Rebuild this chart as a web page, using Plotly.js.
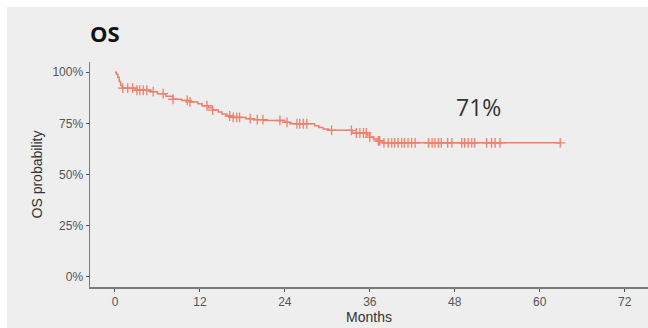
<!DOCTYPE html>
<html>
<head>
<meta charset="utf-8">
<script src="https://cdn.plot.ly/plotly-3.0.1.min.js"></script>
<style>
  html, body { margin:0; padding:0; background:#ffffff; overflow:hidden; }
  #chart { position:absolute; left:7px; top:7px; width:641px; height:321px; }
</style>
</head>
<body>
<div id="chart"></div>
<script>
// Kaplan-Meier step curve (months, survival probability)
const stepTimes = [0, 0.2, 0.4, 0.6, 0.8, 1.0, 3.0, 5.0, 6.0, 7.2, 8.2, 9.4, 10.6, 11.7, 12.3, 13.2, 13.8, 14.6, 15.1, 15.8, 16.6, 18.5, 19.6, 21.0, 24.0, 24.7, 28.2, 28.8, 29.4, 30.2, 33.5, 35.6, 36.0, 36.5, 37.2, 37.8, 62.9];
const stepSurv  = [1.0, 0.99, 0.975, 0.955, 0.935, 0.922, 0.912, 0.905, 0.895, 0.882, 0.868, 0.862, 0.855, 0.846, 0.836, 0.826, 0.815, 0.805, 0.796, 0.786, 0.779, 0.773, 0.768, 0.764, 0.755, 0.748, 0.738, 0.730, 0.722, 0.716, 0.703, 0.693, 0.683, 0.673, 0.664, 0.655, 0.655];
// Censoring times (months)
const censorTimes = [1.1, 1.8, 2.5, 3.1, 3.5, 4.0, 4.5, 5.4, 6.8, 8.2, 10.2, 10.6, 13.0, 13.8, 16.2, 16.7, 17.2, 17.6, 19.1, 20.1, 20.9, 23.3, 24.3, 25.7, 26.1, 26.6, 27.1, 30.6, 33.4, 34.1, 34.6, 35.1, 35.5, 36.0, 37.2, 37.4, 38.0, 38.6, 39.1, 39.5, 40.0, 40.5, 40.9, 41.4, 41.9, 42.4, 44.3, 44.8, 45.2, 45.7, 46.1, 47.0, 47.6, 49.0, 49.4, 49.9, 50.4, 50.8, 52.5, 53.2, 53.7, 54.4, 62.9];
// Axis ticks
const xTickVals = [0, 12, 24, 36, 48, 60, 72];
const yTickVals = [0, 0.25, 0.5, 0.75, 1.0];
const yTickText = ['0%', '25%', '50%', '75%', '100%'];
// Texts
const chartTitle = 'OS';
const xTitle = 'Months';
const yTitle = 'OS probability';
const annotText = '71%';
const annotX = 51.4;
const annotY = 0.828;

// survival at censor time from step curve
function survAt(t) {
  let s = stepSurv[0];
  for (let i = 0; i < stepTimes.length; i++) {
    if (stepTimes[i] <= t) s = stepSurv[i]; else break;
  }
  return s;
}
const censorSurv = censorTimes.map(survAt);

const col = '#F07F69';

const traces = [
  {
    x: stepTimes, y: stepSurv, type: 'scatter', mode: 'lines',
    line: {shape: 'hv', color: col, width: 1.5},
    hoverinfo: 'skip', showlegend: false
  },
  {
    x: censorTimes, y: censorSurv, type: 'scatter', mode: 'markers',
    marker: {symbol: 'cross-thin', size: 7, line: {color: col, width: 1.3}, color: col},
    showlegend: false
  }
];

const axisFont = {family: 'Liberation Sans, Arial, sans-serif', size: 12, color: '#555555'};

const layout = {
  width: 641, height: 321,
  paper_bgcolor: '#eeeeee', plot_bgcolor: '#eeeeee',
  margin: {l: 83, r: 0, t: 54.5, b: 41},
  title: {
    text: chartTitle, xref: 'container', yref: 'container',
    x: 83/641, xanchor: 'left', y: 1 - 27/321, yanchor: 'middle',
    font: {family: 'Open Sans, sans-serif', size: 22, color: '#111111', weight: 'bold'}
  },
  xaxis: {
    range: [-3.53, 75.3], tickvals: xTickVals, ticks: 'outside', ticklen: 3,
    tickcolor: '#555555', showline: true, linecolor: '#7a7a7a', linewidth: 1.5,
    showgrid: false, zeroline: false, tickfont: axisFont,
    title: {text: xTitle, standoff: 2, font: {family: 'Liberation Sans, Arial, sans-serif', size: 14, color: '#333333'}}
  },
  yaxis: {
    range: [-0.05, 1.05], tickvals: yTickVals, ticktext: yTickText, ticks: 'outside', ticklen: 3,
    tickcolor: '#555555', showline: true, linecolor: '#7a7a7a', linewidth: 1.5,
    showgrid: false, zeroline: false, tickfont: axisFont,
    title: {text: yTitle, standoff: 6, font: {family: 'Liberation Sans, Arial, sans-serif', size: 14, color: '#333333'}}
  },
  annotations: [{
    x: annotX, y: annotY, xref: 'x', yref: 'y', text: annotText, showarrow: false,
    font: {family: 'Open Sans, sans-serif', size: 23, color: '#333333'}
  }]
};

Plotly.newPlot('chart', traces, layout, {displayModeBar: false, staticPlot: true});
</script>
</body>
</html>
